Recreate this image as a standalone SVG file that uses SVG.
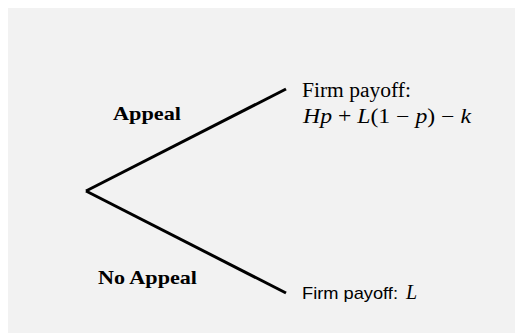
<svg xmlns="http://www.w3.org/2000/svg" width="515" height="335" viewBox="0 0 515 335">
<style>
.bg{fill:#f2f2f2}
.edge{stroke:#000;stroke-width:3;fill:none;stroke-linecap:butt}
.lbl{font-family:"Liberation Serif","DejaVu Serif",serif;font-weight:bold;font-size:19px;fill:#000}
.pay{font-family:"Liberation Serif","DejaVu Serif",serif;font-size:20px;fill:#000}
.math{font-family:"Liberation Serif","DejaVu Serif",serif;font-size:20px;fill:#000}
.it{font-style:italic}
.sans{font-family:"Liberation Sans","DejaVu Sans",sans-serif;font-size:17px;fill:#000}
</style>
<rect width="515" height="335" fill="#fff"/>
<rect class="bg" x="8" y="8" width="507" height="325"/>
<g id="connectors">
<line class="edge" x1="86" y1="191" x2="286" y2="89"/>
<line class="edge" x1="86" y1="191" x2="286" y2="293"/>
</g>
<g id="label-appeal"><text class="lbl" x="113" y="120" textLength="68" lengthAdjust="spacingAndGlyphs">Appeal</text></g>
<g id="label-noappeal"><text class="lbl" x="98" y="284" textLength="99" lengthAdjust="spacingAndGlyphs">No Appeal</text></g>
<g id="node-appeal">
<text class="pay" x="302" y="97" textLength="109" lengthAdjust="spacingAndGlyphs">Firm payoff:</text>
<text class="math" x="303" y="123" textLength="168" lengthAdjust="spacingAndGlyphs"><tspan class="it">Hp</tspan> + <tspan class="it">L</tspan>(1 − <tspan class="it">p</tspan>) − <tspan class="it">k</tspan></text>
</g>
<g id="node-noappeal">
<text class="sans" x="302" y="299" textLength="96" lengthAdjust="spacingAndGlyphs">Firm payoff:</text>
<text class="math it" x="406" y="299">L</text>
</g>
</svg>
